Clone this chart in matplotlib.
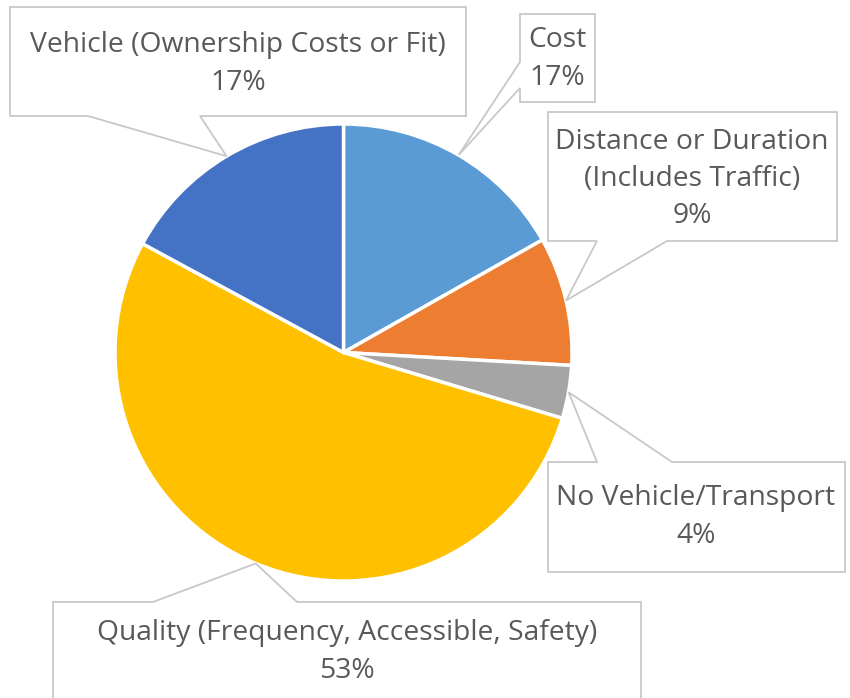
import matplotlib
matplotlib.use("Agg")
import matplotlib.pyplot as plt
from matplotlib.patches import Polygon
import numpy as np

# ---- data ----
categories = ["Cost",
              "Distance or Duration\n(Includes Traffic)",
              "No Vehicle/Transport",
              "Quality (Frequency, Accessible, Safety)",
              "Vehicle (Ownership Costs or Fit)"]
values = [16.8, 9.1, 3.75, 53.25, 17.1]
colors = ["#5B9BD5", "#ED7D31", "#A5A5A5", "#FFC000", "#4472C4"]

# ---- layout (image pixel coords, y down) ----
W, H = 850, 698
center = (343.5, 352.5)
R = 228.5
callouts = [
    dict(box=(520, 14, 595, 102), side="left", base=(62, 88), txt=(557, 59)),
    dict(box=(548, 112, 837, 241), side="bottom", base=(597, 667), txt=(692, 179)),
    dict(box=(548, 462, 845, 572), side="top", base=(597, 672), txt=(696, 517)),
    dict(box=(53, 602, 641, 730), side="top", base=(153, 297), txt=(347, 652)),
    dict(box=(10, 7, 466, 116), side="bottom", base=(88, 200), txt=(238, 64)),
]
TEXT_COLOR = "#595959"
EDGE_COLOR = "#C8C8C8"
FONT = "Open Sans"

fig = plt.figure(figsize=(W / 100, H / 100), dpi=100)
ax = fig.add_axes([0, 0, 1, 1])

# y axis inverted: data angles run opposite to visual angles
wedges, _ = ax.pie(values, colors=colors, startangle=-90, counterclock=True,
                   center=center, radius=R, frame=True,
                   wedgeprops=dict(edgecolor="white", linewidth=2.5))
ax.set_xlim(0, W)
ax.set_ylim(H, 0)
ax.set_aspect("equal")
ax.axis("off")

total = sum(values)
for w, cat, val, c in zip(wedges, categories, values, callouts):
    mid = np.deg2rad((w.theta1 + w.theta2) / 2)
    apex = (center[0] + R * np.cos(mid), center[1] + R * np.sin(mid))
    x0, y0, x1, y1 = c["box"]
    b1, b2 = c["base"]
    if c["side"] == "left":
        pts = [(x0, y0), (x1, y0), (x1, y1), (x0, y1), (x0, b2), apex, (x0, b1)]
    elif c["side"] == "bottom":
        pts = [(x0, y0), (x1, y0), (x1, y1), (b2, y1), apex, (b1, y1), (x0, y1)]
    else:
        pts = [(x0, y0), (b1, y0), apex, (b2, y0), (x1, y0), (x1, y1), (x0, y1)]
    ax.add_patch(Polygon(pts, closed=True, facecolor="white", edgecolor=EDGE_COLOR,
                         linewidth=1.3, zorder=3, clip_on=False))
    pct = f"{val / total * 100:.0f}%"
    ax.text(c["txt"][0], c["txt"][1], f"{cat}\n{pct}", ha="center", va="center",
            fontsize=20.3, family=FONT, color=TEXT_COLOR, linespacing=1.45,
            zorder=4, multialignment="center")

fig.savefig("out.png", dpi=100)
